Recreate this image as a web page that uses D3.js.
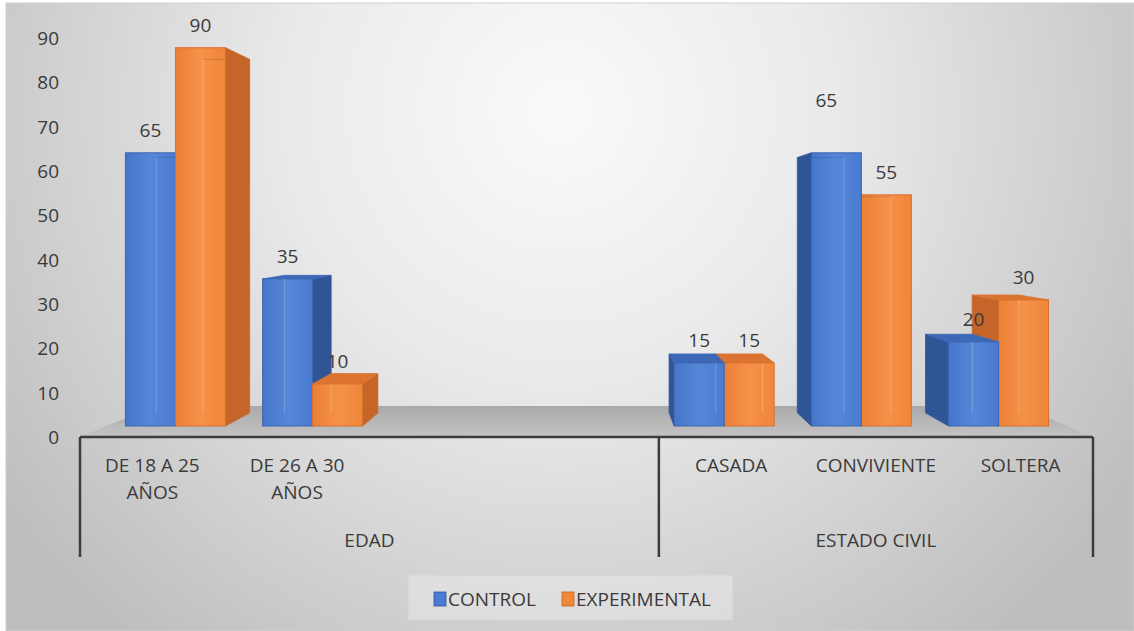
<!DOCTYPE html>
<html>
<head>
<meta charset="utf-8">
<script src="https://cdn.jsdelivr.net/npm/d3@7"></script>
<style>
  html, body { margin: 0; padding: 0; background: #fff; }
  svg { display: block; }
  text { font-family: "Open Sans", "Noto Sans", sans-serif; fill: #3a3a3a; }
</style>
</head>
<body>
<svg id="chart" width="1134" height="631"></svg>
<script>
// ---- data ----
const categories = ["DE 18 A 25 AÑOS", "DE 26 A 30 AÑOS", "", "", "CASADA", "CONVIVIENTE", "SOLTERA"];
const categoryGroups = ["EDAD", "EDAD", "EDAD", "EDAD", "ESTADO CIVIL", "ESTADO CIVIL", "ESTADO CIVIL"];
const seriesNames = ["CONTROL", "EXPERIMENTAL"];
const controlValues = [65, 35, null, null, 15, 65, 20];
const experimentalValues = [90, 10, null, null, 15, 55, 30];
const yTicks = [0, 10, 20, 30, 40, 50, 60, 70, 80, 90];

// ---- setup ----
const W = 1134, H = 631;
const svg = d3.select("#chart");
const defs = svg.append("defs");

const bg = defs.append("radialGradient").attr("id", "bgGrad")
  .attr("gradientUnits", "userSpaceOnUse")
  .attr("cx", 560).attr("cy", 110).attr("r", 680);
bg.append("stop").attr("offset", 0).attr("stop-color", "#fafafa");
bg.append("stop").attr("offset", 0.4).attr("stop-color", "#eaeaea");
bg.append("stop").attr("offset", 1).attr("stop-color", "#bebebe");

const floorGrad = defs.append("linearGradient").attr("id", "floorGrad")
  .attr("x1", 0).attr("y1", 0).attr("x2", 0).attr("y2", 1);
floorGrad.append("stop").attr("offset", 0).attr("stop-color", "#a9a9a9");
floorGrad.append("stop").attr("offset", 1).attr("stop-color", "#c4c4c4");

const palette = {
  CONTROL:      { front: ["#4676c9", "#5686d8", "#4a7bd0"], side: "#2f5597", top: "#3d68b8", edge: "#3b66b2" },
  EXPERIMENTAL: { front: ["#ec7f35", "#f5914a", "#f08638"], side: "#c5652a", top: "#dc7330", edge: "#d8702d" }
};
seriesNames.forEach(s => {
  const g = defs.append("linearGradient").attr("id", "front-" + s)
    .attr("x1", 0).attr("y1", 0).attr("x2", 1).attr("y2", 0);
  palette[s].front.forEach((c, i) => g.append("stop").attr("offset", [0, 0.5, 1][i]).attr("stop-color", c));
});

svg.append("rect").attr("x", 6).attr("y", 3).attr("width", W - 6).attr("height", H - 3)
  .attr("fill", "url(#bgGrad)").attr("stroke", "#cfcfcf");

// ---- scales (front plane of the 3D box) ----
const x = d3.scaleBand().domain(d3.range(categories.length)).range([80, 1093]).padding(0);
const xSub = d3.scaleBand().domain(seriesNames).range([0, x.bandwidth()]).paddingInner(0).paddingOuter(0.372);
const y = d3.scaleLinear().domain([0, 90]).range([437, 38]);

// one-point perspective: depth factor s shrinks points toward the vanishing point
const VP = { x: 596, y: 225 };
const sFront = 0.948, sBack = 0.886, sFloorBack = 0.854;
const proj = (X, Y, s) => [VP.x + (X - VP.x) * s, VP.y + (Y - VP.y) * s];
const poly = pts => "M" + pts.map(p => p.join(",")).join("L") + "Z";

// ---- floor ----
const floorPts = [proj(80, y(0), 1), proj(1093, y(0), 1), proj(1093, y(0), sFloorBack), proj(80, y(0), sFloorBack)];
svg.append("path").attr("d", poly(floorPts)).attr("fill", "url(#floorGrad)");

// ---- bars ----
const bars = [];
categories.forEach((c, i) => {
  [controlValues[i], experimentalValues[i]].forEach((v, j) => {
    if (v == null) return;
    const s = seriesNames[j];
    const X0 = x(i) + xSub(s), X1 = X0 + xSub.bandwidth();
    const cx = proj((X0 + X1) / 2, 0, sFront)[0];
    bars.push({ i, s, v, X0, X1, cx });
  });
});
// paint bars farthest from the vanishing point first
bars.sort((a, b) => Math.abs(b.cx - VP.x) - Math.abs(a.cx - VP.x));

const barLayer = svg.append("g");
bars.forEach(b => {
  const col = palette[b.s];
  const Yt = y(b.v), Yb = y(0);
  const g = barLayer.append("g");
  const leftOfVP = b.cx < VP.x;
  const Xs = leftOfVP ? b.X1 : b.X0;
  // side face
  g.append("path").attr("d", poly([proj(Xs, Yt, sFront), proj(Xs, Yt, sBack), proj(Xs, Yb, sBack), proj(Xs, Yb, sFront)]))
    .attr("fill", col.side).attr("stroke", col.side).attr("stroke-width", 0.8);
  // top face, only when the top lies below eye level
  if (Yt > VP.y) {
    g.append("path").attr("d", poly([proj(b.X0, Yt, sFront), proj(b.X1, Yt, sFront), proj(b.X1, Yt, sBack), proj(b.X0, Yt, sBack)]))
      .attr("fill", col.top).attr("stroke", col.top).attr("stroke-width", 0.8);
  }
  // front face
  const f0 = proj(b.X0, Yt, sFront), f1 = proj(b.X1, Yb, sFront);
  g.append("rect").attr("x", f0[0]).attr("y", f0[1]).attr("width", f1[0] - f0[0]).attr("height", f1[1] - f0[1])
    .attr("fill", `url(#front-${b.s})`).attr("stroke", col.edge).attr("stroke-width", 1);
  // faint back edges seen through the front face
  const Xi = leftOfVP ? b.X0 : b.X1;
  const e0 = proj(Xi, Yt, sBack), e1 = proj(Xi, Yb, sBack);
  g.append("line").attr("x1", e0[0]).attr("y1", Math.max(e0[1], f0[1])).attr("x2", e1[0]).attr("y2", Math.min(e1[1], f1[1]))
    .attr("stroke", "#ffffff").attr("stroke-opacity", 0.22).attr("stroke-width", 1);
  if (Yt < VP.y) {
    const t0 = proj(b.X0, Yt, sBack), t1 = proj(b.X1, Yt, sBack);
    g.append("line").attr("x1", Math.max(t0[0], f0[0])).attr("y1", t0[1]).attr("x2", Math.min(t1[0], f1[0])).attr("y2", t1[1])
      .attr("stroke", "#000").attr("stroke-opacity", 0.12).attr("stroke-width", 1);
  }
});

// ---- value labels ----
const labelNudge = { "5|CONTROL": [-10, -30] };
bars.forEach(b => {
  const c = proj((b.X0 + b.X1) / 2, y(b.v), sFront);
  const n = labelNudge[b.i + "|" + b.s] || [0, 0];
  svg.append("text").attr("x", c[0] + n[0]).attr("y", c[1] - 16 + n[1])
    .attr("text-anchor", "middle").attr("font-size", 19).text(b.v);
});

// ---- value axis labels ----
svg.append("g").selectAll("text").data(yTicks).join("text")
  .attr("x", 59).attr("y", d => y(d)).attr("dy", "0.36em")
  .attr("text-anchor", "end").attr("font-size", 19).text(d => d);

// ---- category axis ----
const axisColor = "#3c3c3c";
svg.append("line").attr("x1", 80).attr("x2", 1093).attr("y1", y(0)).attr("y2", y(0))
  .attr("stroke", axisColor).attr("stroke-width", 2.5);

const groupNames = Array.from(new Set(categoryGroups));
const groupSpans = groupNames.map(g => {
  const idx = categoryGroups.map((d, i) => d === g ? i : -1).filter(i => i >= 0);
  return { name: g, x0: x(idx[0]), x1: x(idx[idx.length - 1]) + x.bandwidth() };
});
const dividers = Array.from(new Set(groupSpans.flatMap(g => [g.x0, g.x1])));
svg.append("g").selectAll("line").data(dividers).join("line")
  .attr("x1", d => d).attr("x2", d => d).attr("y1", y(0)).attr("y2", 557)
  .attr("stroke", axisColor).attr("stroke-width", 2.5);

// category labels, wrapped to the band width
const catG = svg.append("g");
categories.forEach((c, i) => {
  if (!c) return;
  const cx = x(i) + x.bandwidth() / 2;
  const t = catG.append("text").attr("x", cx).attr("y", 472).attr("text-anchor", "middle").attr("font-size", 19);
  const words = c.split(" ");
  let line = [];
  let tspan = t.append("tspan").attr("x", cx).attr("dy", 0);
  words.forEach(w => {
    line.push(w);
    tspan.text(line.join(" "));
    if (tspan.node().getComputedTextLength() > x.bandwidth() - 10 && line.length > 1) {
      line.pop();
      tspan.text(line.join(" "));
      line = [w];
      tspan = t.append("tspan").attr("x", cx).attr("dy", "1.42em").text(w);
    }
  });
});
svg.append("g").selectAll("text").data(groupSpans).join("text")
  .attr("x", d => (d.x0 + d.x1) / 2).attr("y", 547).attr("text-anchor", "middle")
  .attr("font-size", 19).text(d => d.name);

// ---- legend ----
const lg = svg.append("g");
lg.append("rect").attr("x", 408).attr("y", 575).attr("width", 325).attr("height", 45)
  .attr("fill", "#e6e6e6").attr("fill-opacity", 0.6).attr("stroke", "#d3d3d3");
const legendX = [434, 562];
seriesNames.forEach((s, k) => {
  lg.append("rect").attr("x", legendX[k]).attr("y", 592).attr("width", 12).attr("height", 14)
    .attr("fill", palette[s].front[2]).attr("stroke", palette[s].side).attr("stroke-width", 0.8);
  lg.append("text").attr("x", legendX[k] + 14).attr("y", 599).attr("dy", "0.36em")
    .attr("font-size", 19).text(s);
});
</script>
</body>
</html>
